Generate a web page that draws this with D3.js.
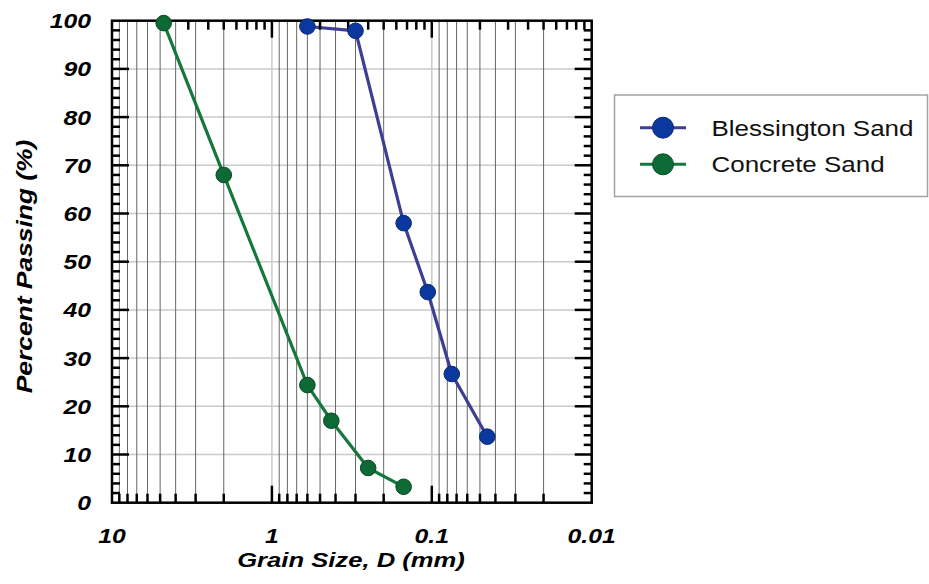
<!DOCTYPE html>
<html>
<head>
<meta charset="utf-8">
<script src="https://cdn.jsdelivr.net/npm/d3@7/dist/d3.min.js"></script>
<style>
  html, body { margin: 0; padding: 0; background: #fff; }
  svg { display: block; }
  text { font-family: "Liberation Sans", Arial, sans-serif; }
</style>
</head>
<body>
<svg id="chart" width="929" height="584"></svg>
<script>
// Grain size distribution (sieve analysis) data: size in mm, percent passing
const concreteSize    = [4.75, 2.0, 0.6, 0.425, 0.25, 0.15];
const concretePassing = [99.5, 68.0, 24.4, 17.0, 7.2, 3.3];
const blessSize       = [0.6, 0.3, 0.15, 0.106, 0.075, 0.045];
const blessPassing    = [98.8, 97.9, 58.0, 43.7, 26.7, 13.7];

const seriesNames  = ["Blessington Sand", "Concrete Sand"];
const xTickLabels  = ["10", "1", "0.1", "0.01"];
const xTickValues  = [10, 1, 0.1, 0.01];
const yTickValues  = [0, 10, 20, 30, 40, 50, 60, 70, 80, 90, 100];
const decades      = [0.01, 0.1, 1];

const svg = d3.select("#chart");
const L = 112, R = 591.7, T = 20.7, B = 502.7;

const x = d3.scaleLog().domain([10, 0.01]).range([L, R]);
const y = d3.scaleLinear().domain([0, 100]).range([B, T]);

const blueLine = "#3e3e92", blueFill = "#0b389e", blueEdge = "#0a2a72";
const greenLine = "#14773c", greenFill = "#0e6a35", greenEdge = "#0a4826";

// minor values inside each decade (2..9 times the decade base)
const minorVals = [];
decades.forEach(d => { for (let k = 2; k <= 9; k++) minorVals.push(k * d); });
// top-edge minor ticks run in the opposite sense inside each decade
const topMinorVals = [];
decades.forEach(d => { for (let k = 2; k <= 9; k++) topMinorVals.push(d * 10 / k); });

const grid = svg.append("g");
// horizontal grid
grid.selectAll("line.h").data(yTickValues.filter(v => v > 0 && v < 100)).join("line")
  .attr("x1", L).attr("x2", R)
  .attr("y1", d => y(d)).attr("y2", d => y(d))
  .attr("stroke", "#cacaca").attr("stroke-width", 1.5);
// vertical grid at minor values
grid.selectAll("line.v").data(minorVals).join("line")
  .attr("x1", d => x(d)).attr("x2", d => x(d))
  .attr("y1", T).attr("y2", B)
  .attr("stroke", "#666").attr("stroke-width", 1);
// vertical grid at decades
grid.selectAll("line.dv").data([1, 0.1]).join("line")
  .attr("x1", d => x(d)).attr("x2", d => x(d))
  .attr("y1", T).attr("y2", B)
  .attr("stroke", "#cacaca").attr("stroke-width", 1.5);

// series lines
const lineGen = d3.line().x(d => x(d[0])).y(d => y(d[1]));
const bless = blessSize.map((s, i) => [s, blessPassing[i]]);
const concrete = concreteSize.map((s, i) => [s, concretePassing[i]]);

svg.append("path").datum(bless).attr("d", lineGen)
  .attr("fill", "none").attr("stroke", blueLine).attr("stroke-width", 3.2);
svg.append("path").datum(concrete).attr("d", lineGen)
  .attr("fill", "none").attr("stroke", greenLine).attr("stroke-width", 3.2);

// frame and ticks
const ax = svg.append("g").attr("stroke", "#000").attr("stroke-linecap", "butt");
const tw = 2.5;
// y ticks, every 2 %
const yMinor = d3.range(2, 100, 2);
ax.selectAll("line.yl").data(yMinor).join("line")
  .attr("x1", L).attr("x2", d => L + (d % 10 === 0 ? 17 : 8))
  .attr("y1", d => y(d)).attr("y2", d => y(d)).attr("stroke-width", tw);
ax.selectAll("line.yr").data(yMinor).join("line")
  .attr("x1", R).attr("x2", d => R - (d % 10 === 0 ? 17 : 8))
  .attr("y1", d => y(d)).attr("y2", d => y(d)).attr("stroke-width", tw);
// bottom ticks
ax.selectAll("line.xb").data(minorVals).join("line")
  .attr("x1", d => x(d)).attr("x2", d => x(d))
  .attr("y1", B).attr("y2", B - 9).attr("stroke-width", tw);
ax.selectAll("line.xbd").data([1, 0.1]).join("line")
  .attr("x1", d => x(d)).attr("x2", d => x(d))
  .attr("y1", B).attr("y2", B - 17).attr("stroke-width", tw);
// top ticks
ax.selectAll("line.xt").data(topMinorVals).join("line")
  .attr("x1", d => x(d)).attr("x2", d => x(d))
  .attr("y1", T).attr("y2", T + 9).attr("stroke-width", tw);
ax.selectAll("line.xtd").data([1, 0.1]).join("line")
  .attr("x1", d => x(d)).attr("x2", d => x(d))
  .attr("y1", T).attr("y2", T + 17).attr("stroke-width", tw);
// frame
svg.append("rect").attr("x", L).attr("y", T).attr("width", R - L).attr("height", B - T)
  .attr("fill", "none").attr("stroke", "#000").attr("stroke-width", 2.5);

// markers
svg.append("g").selectAll("circle").data(bless).join("circle")
  .attr("cx", d => x(d[0])).attr("cy", d => y(d[1])).attr("r", 7.8)
  .attr("fill", blueFill).attr("stroke", blueEdge).attr("stroke-width", 1);
svg.append("g").selectAll("circle").data(concrete).join("circle")
  .attr("cx", d => x(d[0])).attr("cy", d => y(d[1])).attr("r", 7.8)
  .attr("fill", greenFill).attr("stroke", greenEdge).attr("stroke-width", 1);

// labels
const SX = 1.18;
svg.append("g").selectAll("text").data(yTickValues).join("text")
  .attr("transform", d => `translate(91,${y(d) + 7.5}) scale(${SX},1)`)
  .attr("text-anchor", "end")
  .attr("font-size", 21).attr("font-weight", "bold").attr("font-style", "italic")
  .attr("fill", "#000")
  .text(d => d);
svg.append("g").selectAll("text").data(xTickValues).join("text")
  .attr("transform", d => `translate(${x(d)},543.3) scale(${SX},1)`)
  .attr("text-anchor", "middle")
  .attr("font-size", 21).attr("font-weight", "bold").attr("font-style", "italic")
  .attr("fill", "#000")
  .text((d, i) => xTickLabels[i]);

svg.append("text")
  .attr("transform", `translate(351,566.7) scale(1.22,1)`)
  .attr("text-anchor", "middle")
  .attr("font-size", 21).attr("font-weight", "bold").attr("font-style", "italic")
  .attr("fill", "#000")
  .text("Grain Size, D (mm)");
svg.append("text")
  .attr("transform", `translate(32,266.5) rotate(-90) scale(1.2,1)`)
  .attr("text-anchor", "middle")
  .attr("font-size", 22).attr("font-weight", "bold").attr("font-style", "italic")
  .attr("fill", "#000")
  .text("Percent Passing (%)");

// legend
const lg = svg.append("g");
lg.append("rect").attr("x", 614.5).attr("y", 95).attr("width", 313).attr("height", 101.5)
  .attr("fill", "#fff").attr("stroke", "#a3a3a3").attr("stroke-width", 1.5);
const legendItems = [
  { name: seriesNames[0], line: blueLine, fill: blueFill, edge: blueEdge, cy: 127.7 },
  { name: seriesNames[1], line: greenLine, fill: greenFill, edge: greenEdge, cy: 164.3 }
];
legendItems.forEach(it => {
  lg.append("line").attr("x1", 640).attr("x2", 686).attr("y1", it.cy).attr("y2", it.cy)
    .attr("stroke", it.line).attr("stroke-width", 3);
  lg.append("circle").attr("cx", 663).attr("cy", it.cy).attr("r", 10.5)
    .attr("fill", it.fill).attr("stroke", it.edge).attr("stroke-width", 1);
  lg.append("text")
    .attr("transform", `translate(711.5,${it.cy + 7.8}) scale(1.18,1)`)
    .attr("font-size", 22).attr("fill", "#111")
    .text(it.name);
});
</script>
</body>
</html>
